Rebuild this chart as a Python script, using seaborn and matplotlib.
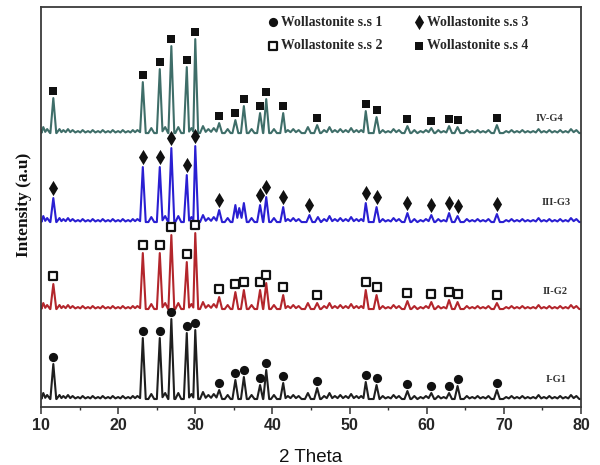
import matplotlib
matplotlib.use("Agg")
import matplotlib.pyplot as plt
import seaborn as sns

# ---------------- data ----------------
x_min, x_max = 10, 80
x_ticks = [10, 20, 30, 40, 50, 60, 70, 80]
x_tick_labels = ["10", "20", "30", "40", "50", "60", "70", "80"]

peaks_common = [11.6, 23.2, 25.4, 26.9, 28.9, 30.0, 33.1, 35.2, 36.3, 38.4,
                39.2, 41.4, 45.8, 52.1, 53.5, 57.5, 60.6, 62.9, 64.0, 69.1]
peaks_g3 = [11.6, 23.2, 25.4, 26.9, 28.9, 30.0, 33.1, 35.2, 35.7, 36.3, 38.4,
            39.2, 41.4, 44.8, 52.1, 53.5, 57.5, 60.6, 62.9, 64.0, 69.1]

heights_g1 = [35, 61, 61, 80, 66, 69, 9, 19, 22, 14, 29, 16, 11, 17, 14, 8, 6, 6, 13, 9]
heights_g2 = [25, 56, 56, 74, 47, 76, 12, 17, 19, 19, 26, 14, 6, 19, 14, 8, 7, 9, 7, 6]
heights_g3 = [24, 55, 55, 74, 47, 76, 12, 17, 14, 19, 17, 25, 15, 7, 19, 15, 9, 7, 9, 6, 8]
heights_g4 = [35, 51, 64, 87, 66, 94, 10, 13, 27, 20, 34, 20, 8, 22, 16, 7, 5, 7, 6, 8]

marked_g1 = peaks_common
marked_g2 = peaks_common
marked_g3 = [11.6, 23.2, 25.4, 26.9, 28.9, 30.0, 33.1, 38.4, 39.2, 41.4, 44.8,
             52.1, 53.5, 57.5, 60.6, 62.9, 64.0, 69.1]
marked_g4 = peaks_common

# small background wiggles (2theta, height)
bump_pos = [10.3, 10.8, 12.4, 12.9, 13.5, 14.1, 14.8, 15.4, 16.1, 16.7, 17.4,
            18.0, 18.7, 19.3, 20.0, 20.6, 21.3, 21.9, 22.5, 24.3, 26.1, 27.8,
            29.5, 31.0, 31.7, 32.4, 34.2, 37.3, 40.2, 42.0, 42.7, 43.4, 44.6,
            45.9, 46.7, 47.4, 48.1, 48.8, 49.5, 50.2, 50.9, 51.5, 54.3, 55.0,
            55.7, 56.4, 58.4, 59.2, 59.9, 61.5, 62.2, 65.2, 65.9, 66.6, 67.3,
            68.0, 70.3, 71.0, 71.7, 72.4, 73.1, 73.8, 74.5, 75.2, 75.9, 76.6,
            77.3, 78.0, 78.7, 79.4]
bump_h = [6, 4, 4, 3, 4, 3, 2, 3, 2, 3, 2, 3, 2, 3, 2, 3, 2, 3, 3, 5, 6, 6,
          5, 7, 4, 5, 4, 4, 4, 3, 4, 3, 6, 5, 3, 6, 3, 4, 3, 5, 3, 3, 3, 2,
          4, 3, 3, 2, 3, 3, 2, 3, 2, 3, 2, 3, 2, 3, 2, 3, 2, 2, 4, 2, 3, 2,
          3, 2, 4, 3]

baselines = [8, 98, 185, 274]
series_names = ["I-G1", "II-G2", "III-G3", "IV-G4"]
legend_labels = ["Wollastonite s.s 1", "Wollastonite s.s 2",
                 "Wollastonite s.s 3", "Wollastonite s.s 4"]
line_colors = ["#1f1f1f", "#b3262c", "#2a1fd2", "#3f6e69"]

# ---------------- helpers ----------------
def build_trace(peak_pos, peak_h, base):
    pk = list(zip(peak_pos, peak_h))
    for bp, bh in zip(bump_pos, bump_h):
        if min(abs(bp - p) for p in peak_pos) > 0.45:
            pk.append((bp, bh))
    pk.sort()
    half = 0.38
    xs, ys = [x_min], [base + 3]
    for i, (p, h) in enumerate(pk):
        left = p - half
        if i > 0:
            pp, ph = pk[i - 1]
            if left <= pp + half:
                xs.append((pp + p) / 2)
                ys.append(base + 0.3 * min(ph, h))
            else:
                xs += [pp + half, left]
                ys += [base, base]
        else:
            xs.append(max(left, x_min + 0.05))
            ys.append(base)
        xs.append(p)
        ys.append(base + h)
    xs += [pk[-1][0] + half, x_max]
    ys += [base, base]
    return xs, ys


sns.set_theme(style="white")
plt.rcParams["font.family"] = ["Liberation Sans", "DejaVu Sans"]

fig = plt.figure(figsize=(6, 4.65), dpi=100)
ax = fig.add_axes([0.0683, 0.1247, 0.9, 0.86])

all_peaks = [peaks_common, peaks_common, peaks_g3, peaks_common]
all_heights = [heights_g1, heights_g2, heights_g3, heights_g4]
all_marked = [marked_g1, marked_g2, marked_g3, marked_g4]
marker_styles = [
    dict(marker="o", s=44, color="#111111", edgecolor="#111111", linewidth=0),
    dict(marker="s", s=32, color="white", edgecolor="#111111", linewidth=1.6),
    dict(marker="d", s=60, color="#111111", edgecolor="#111111", linewidth=0),
    dict(marker="s", s=32, color="#111111", edgecolor="#111111", linewidth=0),
]
marker_offsets = [7, 8, 10, 7]

for k in range(4):
    xs, ys = build_trace(all_peaks[k], all_heights[k], baselines[k])
    sns.lineplot(x=xs, y=ys, estimator=None, sort=False, color=line_colors[k],
                 linewidth=1.5, ax=ax)
    hmap = dict(zip(all_peaks[k], all_heights[k]))
    mx = all_marked[k]
    my = [baselines[k] + hmap[p] + marker_offsets[k] for p in mx]
    sns.scatterplot(x=mx, y=my, ax=ax, zorder=4, label=legend_labels[k],
                    **marker_styles[k])

# series labels
label_pos = [(76.8, 28), (76.6, 116), (76.8, 205), (75.9, 289)]
for name, (lx, ly) in zip(series_names, label_pos):
    ax.text(lx, ly, name, ha="center", va="center", fontsize=7.5,
            fontweight="bold", family="Liberation Serif", color="#333333")

ax.set_xlim(x_min, x_max)
ax.set_ylim(0, 400)
ax.set_yticks([])
ax.set_xticks(x_ticks)
ax.set_xticklabels(x_tick_labels, fontsize=11.5, fontweight="bold",
                   family="Liberation Sans")
ax.set_xticks([15, 25, 35, 45, 55, 65, 75], minor=True)
ax.tick_params(axis="x", which="major", direction="out", length=4.8,
               width=1.1, color="#333333", pad=3, bottom=True)
ax.tick_params(axis="x", which="minor", direction="out", length=2.5,
               width=1.0, color="#333333", bottom=True)
for sp in ax.spines.values():
    sp.set_visible(True)
    sp.set_color("#3a3a3a")
    sp.set_linewidth(1.3)

ax.set_xlabel("2 Theta", fontsize=13.5, family="Liberation Sans", color="#111111")
ax.xaxis.set_label_coords(0.5, -0.106)
ax.set_ylabel("Intensity (a.u)", fontsize=12.5, fontweight="bold",
              family="Liberation Serif", color="#111111")
ax.yaxis.set_label_coords(-0.017, 0.505)

handles, labels = ax.get_legend_handles_labels()
ax.legend(handles, labels, ncol=2, loc="upper left",
          bbox_to_anchor=(0.418, 0.978), frameon=False,
          prop=dict(family="Liberation Serif", weight="bold", size=9.9),
          handletextpad=0.15, columnspacing=2.2, labelspacing=0.75,
          handlelength=0.9, borderpad=0, borderaxespad=0)

fig.savefig("out.png", dpi=100)
